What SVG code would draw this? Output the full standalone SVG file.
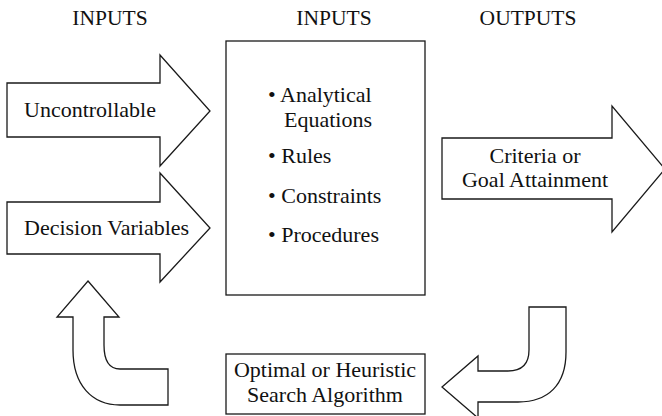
<svg xmlns="http://www.w3.org/2000/svg" width="662" height="416" viewBox="0 0 662 416">
  <style>
    .shape { fill: #ffffff; stroke: #1a1a1a; stroke-width: 1.3; stroke-linejoin: miter; }
    .label { font-size: 22px; fill: #111111; }
    .head { font-size: 21.5px; fill: #111111; text-anchor: middle; }
    .mid { text-anchor: middle; }
  </style>

  <g font-family="Liberation Serif, DejaVu Serif, serif">
  <!-- column headings -->
  <g id="headings">
    <text class="head" x="110" y="25">INPUTS</text>
    <text class="head" x="334" y="25">INPUTS</text>
    <text class="head" x="528" y="25">OUTPUTS</text>
  </g>

  <!-- input arrows -->
  <g id="uncontrollable">
    <path class="shape" d="M7,83 L160,83 L160,55 L210,111 L160,166 L160,137 L7,137 Z"/>
    <text class="label" x="24" y="117">Uncontrollable</text>
  </g>

  <g id="decision-variables">
    <path class="shape" d="M7,202 L160,202 L160,173 L210,228 L160,282 L160,254 L7,254 Z"/>
    <text class="label" x="24" y="235">Decision Variables</text>
  </g>

  <!-- model box -->
  <g id="model">
    <rect class="shape" x="226" y="41" width="199" height="254"/>
    <text class="label" x="268" y="102">• Analytical</text>
    <text class="label" x="284" y="127">Equations</text>
    <text class="label" x="268" y="163">• Rules</text>
    <text class="label" x="268" y="203">• Constraints</text>
    <text class="label" x="268" y="242">• Procedures</text>
  </g>

  <!-- output arrow -->
  <g id="criteria">
    <path class="shape" d="M442,138 L612,138 L612,106 L665,169 L612,232 L612,199 L442,199 Z"/>
    <text class="label mid" x="535" y="163">Criteria or</text>
    <text class="label mid" x="535" y="187">Goal Attainment</text>
  </g>

  <!-- search algorithm box -->
  <g id="search">
    <rect class="shape" x="226" y="354" width="199" height="60"/>
    <text class="label mid" x="325" y="377">Optimal or Heuristic</text>
    <text class="label mid" x="325" y="402">Search Algorithm</text>
  </g>

  <!-- feedback loop connectors -->
  <g id="connectors">
    <path class="shape" d="M529,307 L566,307 L566,352 C566,385 548,402 518,402 L478,402 L478,418 L442,387 L478,356 L478,371 L508,371 C522,371 529,364 529,350 Z"/>
    <path class="shape" d="M88,281 L119,317 L104,317 L104,345 C104,362 110,369 120,369 L168,369 L168,405 L120,405 C92,405 73,385 73,350 L73,317 L57,317 Z"/>
  </g>
  </g>
</svg>
